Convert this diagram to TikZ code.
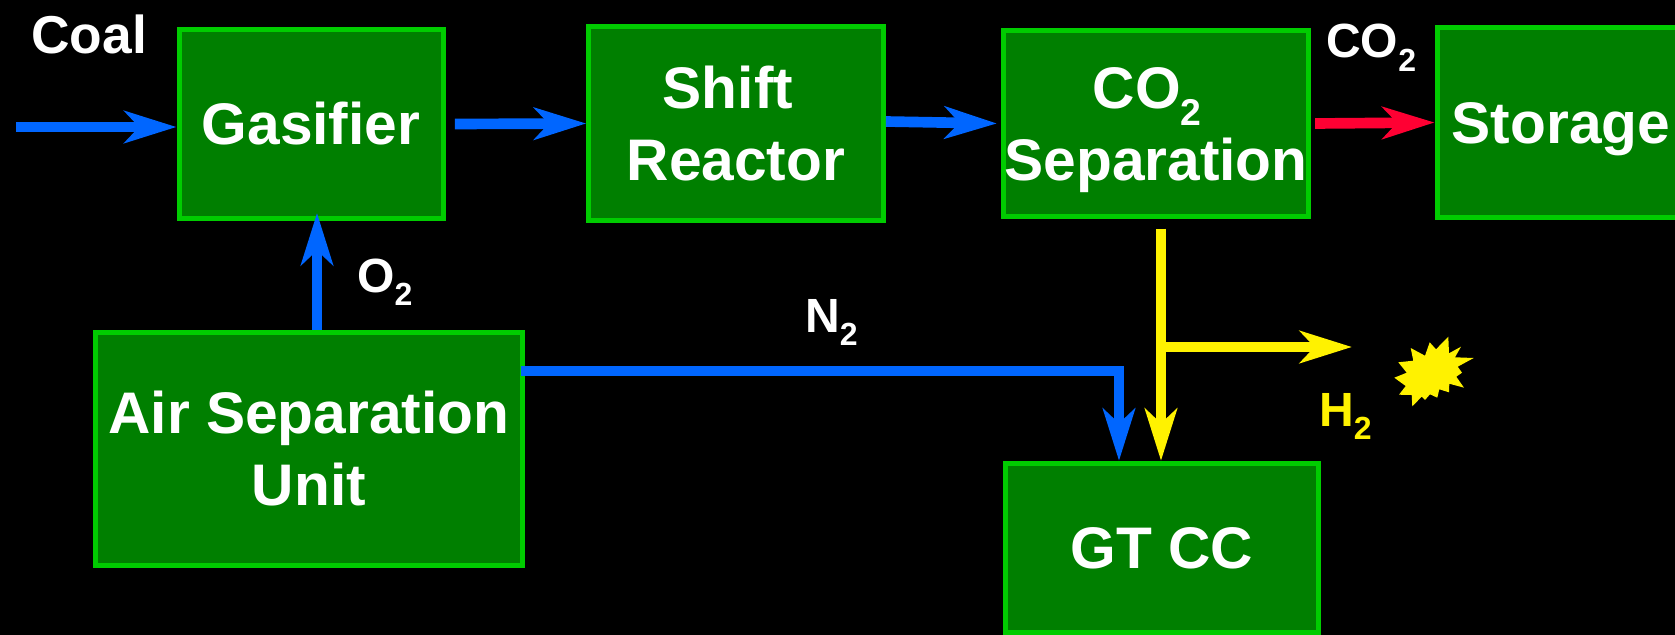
\documentclass[tikz,border=0pt]{standalone}
\usepackage{fontspec}
\setmainfont{Liberation Sans}
\usetikzlibrary{arrows.meta}
\definecolor{boxfill}{HTML}{007F00}
\definecolor{boxline}{HTML}{00CC00}
\definecolor{flowblue}{HTML}{0066FF}
\definecolor{flowred}{HTML}{FF0033}
\newcommand{\bigtext}{\fontsize{44}{54}\selectfont\bfseries}
\newcommand{\smalltext}{\fontsize{36}{40}\selectfont\bfseries}
\newcommand{\lowtwo}[1]{\raisebox{-0.28em}{\fontsize{#1}{#1}\selectfont 2}}
\begin{document}
\begin{tikzpicture}[
  x=0.75pt, y=-0.75pt,
  plant/.style={draw=boxline, fill=boxfill, line width=3.75pt, text=white, align=center, inner sep=0pt, font=\bigtext},
  tag/.style={inner sep=0pt, anchor=base west, text=white, font=\smalltext},
  flow/.style={line width=8pt, flowblue, -{Stealth[length=39pt, width=24pt, inset=11pt]}}
]
\useasboundingbox (0,0) rectangle (1675,635);
\clip (0,0) rectangle (1675,635);
\fill[black] (0,0) rectangle (1675,635);
\node[plant, minimum width=198pt, minimum height=142pt] (gasifier) at (311,124) {Gasifier};
\node[plant, minimum width=221pt, minimum height=145pt, text height=86pt, text depth=0pt] (shift) at (736,123.5) {Shift\rule{12pt}{0pt}\\Reactor};
\node[plant, minimum width=229pt, minimum height=140pt, text height=86pt, text depth=0pt] (co2sep) at (1156,123.5) {CO\lowtwo{28}\rule{13pt}{0pt}\\Separation};
\node[plant, minimum width=186pt, minimum height=142pt, text height=32pt, text depth=0pt] (storage) at (1561,122.5) {Storage};
\node[plant, minimum width=320pt, minimum height=175pt] (airsep) at (309,449) {Air Separation\\Unit};
\node[plant, minimum width=235pt, minimum height=127pt] (gtcc) at (1162,548) {GT CC};
\node[tag, font=\fontsize{40}{40}\selectfont\bfseries] (coal) at (31,54) {Coal};
\node[tag] (o2) at (357,292) {O\lowtwo{24}};
\node[tag] (n2) at (805,332) {N\lowtwo{24}};
\node[tag] (co2) at (1326,58) {CO\lowtwo{24}};
\node[tag, text=yellow] (h2) at (1319,426) {H\lowtwo{24}};
\coordinate (coalin) at (16,127);
\coordinate (bend) at (1119,371);
\coordinate (split) at (1161,347);
\coordinate (h2end) at (1352,347);
\coordinate (o2foot) at (317,330);
\coordinate (o2tip) at (317,213);
\draw[flow] (coalin) -- (coalin -| gasifier.west);
\draw[flow] ([xshift=7pt]gasifier.east) -- (shift.west);
\draw[flow] ([yshift=1.5pt]shift.east) -- ([xshift=-3pt]co2sep.west);
\draw[flow, flowred] ([xshift=3pt]co2sep.east) -- (storage.west);
\draw[flow] (o2foot) -- (o2tip);
\draw[flow] ([xshift=-3pt]airsep.east |- bend) -- (bend) -- (bend |- gtcc.north);
\draw[flow, yellow] ([yshift=-7pt]co2sep.south -| split) -- (split |- gtcc.north);
\draw[flow, yellow] (split) -- (h2end);
\fill[yellow] (1448.3,336.7) -- (1449,353.3) -- (1461,346.7) -- (1455,357.3) -- (1473.7,358) -- (1457.7,366.7) -- (1462,372.7) -- (1456.3,376.7) -- (1464,387.7) -- (1449.3,383.7) -- (1449,392.3) -- (1439.3,389.3) -- (1437.3,397.7) -- (1430,394.3) -- (1425,400) -- (1421.7,396.7) -- (1412.3,406.3) -- (1411.7,395) -- (1399,394.7) -- (1405.7,386) -- (1394.3,377.7) -- (1406.7,372.7) -- (1398.3,362.3) -- (1413.3,360.7) -- (1410.7,348) -- (1425,355.7) -- (1429.7,342.3) -- (1436,349.3) -- cycle;
\end{tikzpicture}
\end{document}
